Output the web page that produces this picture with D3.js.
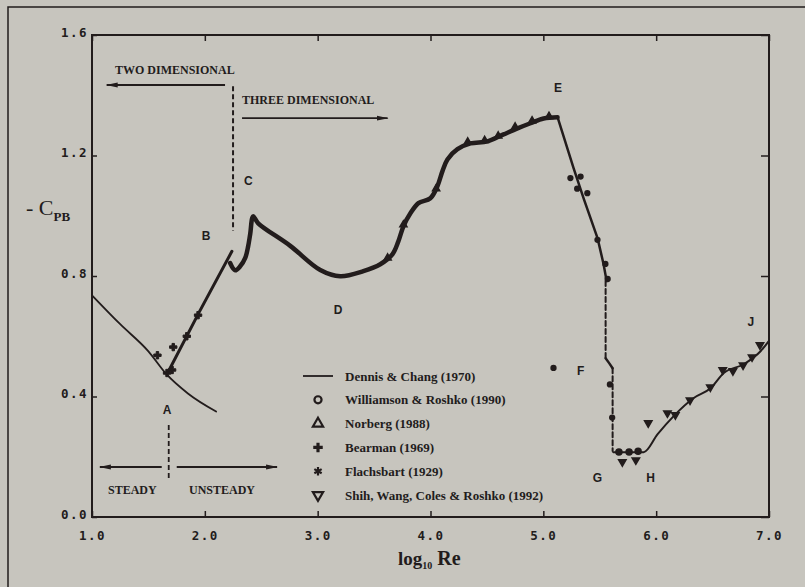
<!DOCTYPE html>
<html>
<head>
<meta charset="utf-8">
<script src="https://cdn.jsdelivr.net/npm/d3@7"></script>
<style>
  body { margin: 0; background: #c7c5be; }
  svg { display: block; }
  .tick-label { font-family: "DejaVu Sans Mono", monospace; font-weight: bold; font-size: 12.5px; letter-spacing: 1.5px; fill: #221c1c; }
  .note { font-family: "Liberation Serif", serif; font-weight: bold; font-size: 12px; fill: #221c1c; }
  .letter { font-family: "Liberation Sans", sans-serif; font-weight: bold; font-size: 12px; fill: #221c1c; }
  .legend { font-family: "Liberation Serif", serif; font-weight: bold; font-size: 13px; fill: #221c1c; }
</style>
</head>
<body>
<script>
// ---- data (log10 Re, -Cpb) ----
const xTicks = [1, 2, 3, 4, 5, 6, 7];
const yTicks = [0, 0.4, 0.8, 1.2, 1.6];

// Dennis & Chang (1970) steady computation
const dennisChang = [[1.0, 0.736], [1.25, 0.64], [1.5, 0.55], [1.66, 0.474], [1.85, 0.41], [2.1, 0.35]];

// experimental curve, piece by piece
const riseAB = [[1.67, 0.478], [1.95, 0.68], [2.24, 0.882]];
const riseCE = [[2.224, 0.843], [2.269, 0.819], [2.313, 0.832], [2.358, 0.86], [2.384, 0.899], [2.402, 0.939],
  [2.428, 0.998], [2.473, 0.975], [2.757, 0.9], [3.023, 0.82], [3.2, 0.799], [3.405, 0.816], [3.555, 0.839],
  [3.662, 0.872], [3.715, 0.915], [3.76, 0.965], [3.822, 1.008], [3.893, 1.042], [3.999, 1.058], [4.061, 1.098],
  [4.106, 1.148], [4.15, 1.187], [4.239, 1.221], [4.354, 1.24], [4.505, 1.247], [4.647, 1.27], [4.771, 1.29],
  [4.886, 1.307], [5.002, 1.323], [5.126, 1.327]];
const dropEF = [[5.126, 1.327], [5.268, 1.158], [5.357, 1.058], [5.481, 0.925], [5.534, 0.839], [5.561, 0.783]];
const crisisUpper = [[5.552, 0.783], [5.552, 0.527]];
const crisisBend = [[5.552, 0.527], [5.585, 0.51], [5.614, 0.494]];
const crisisLower = [[5.614, 0.494], [5.614, 0.219]];
const recoveryHJ = [[5.62, 0.215], [5.75, 0.215], [5.889, 0.215], [6.013, 0.275], [6.155, 0.335], [6.333, 0.395],
  [6.484, 0.428], [6.599, 0.478], [6.776, 0.507], [6.927, 0.551], [6.998, 0.584]];

// measurement points
const williamson = [[5.67, 0.216], [5.76, 0.216], [5.84, 0.218]];
const norberg = [[3.62, 0.86], [3.76, 0.97], [4.05, 1.09], [4.33, 1.245], [4.48, 1.25], [4.6, 1.265], [4.75, 1.295], [4.9, 1.315], [5.05, 1.33]];
const bearman = [[1.58, 0.537], [1.72, 0.564], [1.665, 0.478], [1.71, 0.488], [1.84, 0.6], [1.94, 0.67]];
const flachsbart = [[5.24, 1.125], [5.33, 1.13], [5.3, 1.09], [5.39, 1.075], [5.48, 0.92], [5.55, 0.84], [5.57, 0.79], [5.09, 0.495], [5.59, 0.44], [5.61, 0.33]];
const shih = [[5.93, 0.312], [6.1, 0.345], [6.17, 0.339], [6.3, 0.388], [6.48, 0.431], [6.59, 0.488], [6.68, 0.485],
  [6.77, 0.504], [6.85, 0.531], [6.92, 0.571], [5.7, 0.183], [5.82, 0.189]];

// point labels A..J
const letters = [["A", 1.665, 0.355], ["B", 2.01, 0.933], ["C", 2.385, 1.115], ["D", 3.18, 0.687], ["E", 5.13, 1.424],
  ["F", 5.33, 0.485], ["G", 5.48, 0.129], ["H", 5.95, 0.129], ["J", 6.84, 0.647]];

const legendNames = ["Dennis & Chang (1970)", "Williamson & Roshko (1990)", "Norberg (1988)", "Bearman (1969)", "Flachsbart (1929)", "Shih, Wang, Coles & Roshko (1992)"];

// ---- drawing ----
const w = 805, h = 587;
const ink = "#221c1c";
const pLeft = 92, pRight = 769, pTop = 35, pBottom = 517;

const x = d3.scaleLinear().domain([1, 7]).range([pLeft, pRight]);
const y = d3.scaleLinear().domain([0, 1.6]).range([pBottom, pTop]);

const svg = d3.select("body").append("svg").attr("width", w).attr("height", h);

svg.append("defs").append("marker")
  .attr("id", "arrow")
  .attr("viewBox", "0 0 12 6")
  .attr("refX", 11).attr("refY", 3)
  .attr("markerWidth", 12).attr("markerHeight", 6)
  .attr("markerUnits", "userSpaceOnUse")
  .attr("orient", "auto")
  .append("path").attr("d", "M0,0.5 L12,3 L0,5.5 Z").attr("fill", ink);

// outer page frame
svg.append("path").attr("d", "M8,587 L8,7 L805,7").attr("fill", "none").attr("stroke", ink).attr("stroke-width", 1.5);

// axes (ticks inward)
const xAxis = svg.append("g").attr("transform", `translate(0,${pBottom})`)
  .call(d3.axisBottom(x).tickValues(xTicks).tickSize(-6).tickFormat(d3.format(".1f")));
xAxis.selectAll("text").attr("class", "tick-label").attr("y", 23).attr("dy", "0");
svg.append("g").attr("transform", `translate(0,${pTop})`)
  .call(d3.axisTop(x).tickValues(xTicks).tickSize(-6).tickFormat(""));
const yAxis = svg.append("g").attr("transform", `translate(${pLeft},0)`)
  .call(d3.axisLeft(y).tickValues(yTicks).tickSize(-5).tickPadding(4).tickFormat(d3.format(".1f")));
yAxis.selectAll("text").attr("class", "tick-label").attr("dy", "0.1em");
svg.append("g").attr("transform", `translate(${pRight},0)`)
  .call(d3.axisRight(y).tickValues(yTicks).tickSize(-8).tickFormat(""));
svg.selectAll(".domain").remove();
svg.selectAll(".tick line").attr("stroke", ink).attr("stroke-width", 1.5);
svg.selectAll("g[font-family]").attr("font-family", null).attr("font-size", null);

svg.append("rect").attr("x", pLeft).attr("y", pTop).attr("width", pRight - pLeft).attr("height", pBottom - pTop)
  .attr("fill", "none").attr("stroke", ink).attr("stroke-width", 2);

// axis titles
const yt = svg.append("text").attr("x", 26).attr("y", 215).attr("fill", ink)
  .attr("font-family", "Liberation Serif, serif");
yt.append("tspan").attr("font-size", 22).text("- C");
yt.append("tspan").attr("font-size", 13).attr("font-weight", "bold").attr("dy", 6).text("PB");

const xt = svg.append("text").attr("x", 398).attr("y", 565).attr("fill", ink)
  .attr("font-family", "Liberation Serif, serif").attr("font-weight", "bold");
xt.append("tspan").attr("font-size", 19).text("log");
xt.append("tspan").attr("font-size", 10).attr("dy", 4).text("10");
xt.append("tspan").attr("font-size", 20).attr("dy", -4).attr("dx", 5).text("Re");

// curves
const line = d3.line().x(d => x(d[0])).y(d => y(d[1]));
const smooth = d3.line().x(d => x(d[0])).y(d => y(d[1])).curve(d3.curveCatmullRom);
const mono = d3.line().x(d => x(d[0])).y(d => y(d[1])).curve(d3.curveMonotoneX);

function path(data, gen, width, dash) {
  svg.append("path").attr("d", gen(data)).attr("fill", "none").attr("stroke", ink)
    .attr("stroke-width", width).attr("stroke-linejoin", "round").attr("stroke-linecap", "round")
    .attr("stroke-dasharray", dash || null);
}
path(dennisChang, mono, 1.8);
path(riseAB, line, 3);
path(riseCE, smooth, 4.5);
path(dropEF, line, 2.5);
path(crisisUpper, line, 2, "5,3");
path(crisisBend, line, 2.5);
path(crisisLower, line, 2, "5,3");
path(recoveryHJ, mono, 2);

// measurement markers
const sym = (type, size) => d3.symbol().type(type).size(size);
function points(data, type, size, opts) {
  svg.append("g").selectAll("path").data(data).enter().append("path")
    .attr("transform", d => `translate(${x(d[0])},${y(d[1])})` + (opts.rot ? " rotate(180)" : ""))
    .attr("d", sym(type, size)())
    .attr("fill", opts.fill ? ink : "none")
    .attr("stroke", ink).attr("stroke-width", opts.sw || 1.5);
}
points(williamson, d3.symbolCircle, 28, { fill: true });
points(norberg, d3.symbolTriangle, 22, { fill: true });
points(bearman, d3.symbolCross, 30, { fill: true, sw: 1 });
points(flachsbart, d3.symbolCircle, 18, { fill: true });
points(shih, d3.symbolTriangle, 24, { fill: true, rot: true });

// regime annotations
const b2d = 2.25, bSteady = 1.68;
svg.append("line").attr("x1", x(b2d)).attr("x2", x(b2d)).attr("y1", y(1.43)).attr("y2", y(0.95))
  .attr("stroke", ink).attr("stroke-width", 2).attr("stroke-dasharray", "5,3");
svg.append("line").attr("x1", x(b2d) - 8).attr("x2", x(1.13)).attr("y1", y(1.434)).attr("y2", y(1.434))
  .attr("stroke", ink).attr("stroke-width", 1.8).attr("marker-end", "url(#arrow)");
svg.append("line").attr("x1", x(b2d) + 9).attr("x2", x(3.62)).attr("y1", y(1.324)).attr("y2", y(1.324))
  .attr("stroke", ink).attr("stroke-width", 1.8).attr("marker-end", "url(#arrow)");
svg.append("text").attr("class", "note").attr("x", 115).attr("y", 74).text("TWO DIMENSIONAL");
svg.append("text").attr("class", "note").attr("x", 242).attr("y", 104).text("THREE DIMENSIONAL");

svg.append("line").attr("x1", x(bSteady)).attr("x2", x(bSteady)).attr("y1", y(0.305)).attr("y2", y(0.12))
  .attr("stroke", ink).attr("stroke-width", 1.8).attr("stroke-dasharray", "5,3");
svg.append("line").attr("x1", x(bSteady) - 7).attr("x2", x(1.07)).attr("y1", y(0.166)).attr("y2", y(0.166))
  .attr("stroke", ink).attr("stroke-width", 1.8).attr("marker-end", "url(#arrow)");
svg.append("line").attr("x1", x(bSteady) + 8).attr("x2", x(2.64)).attr("y1", y(0.166)).attr("y2", y(0.166))
  .attr("stroke", ink).attr("stroke-width", 1.8).attr("marker-end", "url(#arrow)");
svg.append("text").attr("class", "note").attr("x", 108).attr("y", 494).text("STEADY");
svg.append("text").attr("class", "note").attr("x", 189).attr("y", 494).text("UNSTEADY");

svg.append("g").selectAll("text").data(letters).enter().append("text")
  .attr("class", "letter")
  .attr("x", d => x(d[1])).attr("y", d => y(d[2]))
  .attr("text-anchor", "middle").attr("dominant-baseline", "central")
  .text(d => d[0]);

// legend
const lg = svg.append("g").attr("transform", "translate(303,376)");
const rows = lg.selectAll("g").data(legendNames).enter().append("g")
  .attr("transform", (d, i) => `translate(0,${i * 23.8})`);
rows.append("text").attr("class", "legend").attr("x", 42).attr("dy", "0.35em").text(d => d);
lg.append("line").attr("x1", 0).attr("x2", 30).attr("stroke", ink).attr("stroke-width", 1.8);
const lsym = [[d3.symbolCircle, 40, false, false], [d3.symbolTriangle, 45, false, false], [d3.symbolCross, 50, true, false],
  [d3.symbolAsterisk, 50, false, false], [d3.symbolTriangle, 45, false, true]];
lsym.forEach((s, i) => {
  lg.append("path").attr("d", sym(s[0], s[1])())
    .attr("transform", `translate(15,${(i + 1) * 23.8})` + (s[3] ? " rotate(180)" : ""))
    .attr("fill", s[2] ? ink : "none").attr("stroke", ink).attr("stroke-width", s[2] ? 0 : 2.2);
});
</script>
</body>
</html>
